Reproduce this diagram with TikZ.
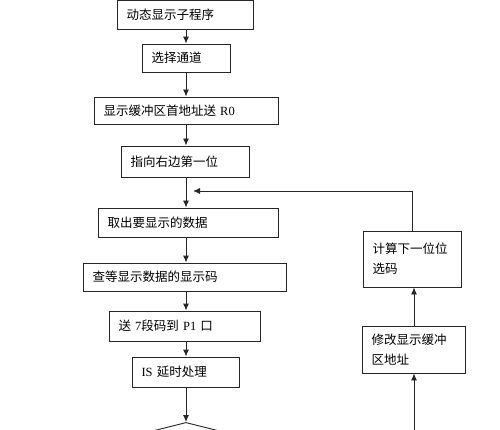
\documentclass[tikz,border=0pt]{standalone}
\usepackage{fontspec}
\setmainfont{Liberation Serif}
\newfontfamily\cjk{Noto Sans CJK SC}
\usetikzlibrary{shapes.geometric, arrows.meta}
\newcommand{\romtxt}[1]{{\rmfamily #1}}

\tikzset{
  procbox/.style={draw=black!85, line width=0.9pt, inner xsep=9pt, inner ysep=0pt,
                  align=left, font=\cjk\fontsize{12.5}{20}\selectfont},
  flow/.style={draw=black!85, line width=0.9pt, -{Latex[length=7pt,width=6pt]}},
}

\begin{document}
\begin{tikzpicture}[x=1pt, y=-1pt]
  \useasboundingbox (0,0) rectangle (500,430);
  \clip (0,0) rectangle (500,430);
  \coordinate (spine) at (186,0);
  % Main column
  \node[procbox, text width=118pt, minimum height=29pt] (sub)   at (185.5,14.5) {动态显示子程序};
  \node[procbox, text width=70pt,  minimum height=28pt] (chan)  at (186.5,58)   {选择通道};
  \node[procbox, text width=166pt, minimum height=27pt] (base)  at (186.5,110.5) {显示缓冲区首地址送 \romtxt{R0}};
  \node[procbox, text width=110pt, minimum height=31pt] (first) at (185.5,161.5) {指向右边第一位};
  \node[procbox, text width=162pt, minimum height=29pt] (fetch) at (188.5,222.5) {取出要显示的数据};
  \node[procbox, text width=185pt, minimum height=28pt] (code)  at (185,277)    {查等显示数据的显示码};
  \node[procbox, text width=133pt, minimum height=30pt] (port)  at (185,326)    {送 \romtxt{7}段码到 \romtxt{P1} 口};
  \node[procbox, text width=89pt,  minimum height=30pt] (delay) at (186,372)    {\romtxt{IS} 延时处理};
  \node[draw=black!85, line width=0.9pt, diamond, aspect=4, inner sep=0pt,
        minimum width=200pt, minimum height=50pt, anchor=north] (test) at (186,422) {};
  % Right column
  \node[procbox, text width=80pt, minimum height=56pt] (next) at (412.5,259)  {计算下一位位\\选码};
  \node[procbox, text width=85pt, minimum height=47pt] (addr) at (414,349.5)  {修改显示缓冲\\区地址};
  \coordinate (loopend) at (193,191);
  \coordinate (back) at (414,430);
  % Connectors
  \draw[flow] (sub.south -| spine)   -- (chan.north -| spine);
  \draw[flow] (chan.south -| spine)  -- (base.north -| spine);
  \draw[flow] (base.south -| spine)  -- (first.north -| spine);
  \draw[flow] (first.south -| spine) -- (fetch.north -| spine);
  \draw[flow] (fetch.south -| spine) -- (code.north -| spine);
  \draw[flow] (code.south -| spine)  -- (port.north -| spine);
  \draw[flow] (port.south -| spine)  -- (delay.north -| spine);
  \draw[flow] (delay.south -| spine) -- (test.north);
  \draw[flow] (back) -- (addr.south -| back);
  \draw[flow] (addr.north -| back) -- (next.south -| back);
  \draw[flow] (next.north) |- (loopend);
\end{tikzpicture}
\end{document}
